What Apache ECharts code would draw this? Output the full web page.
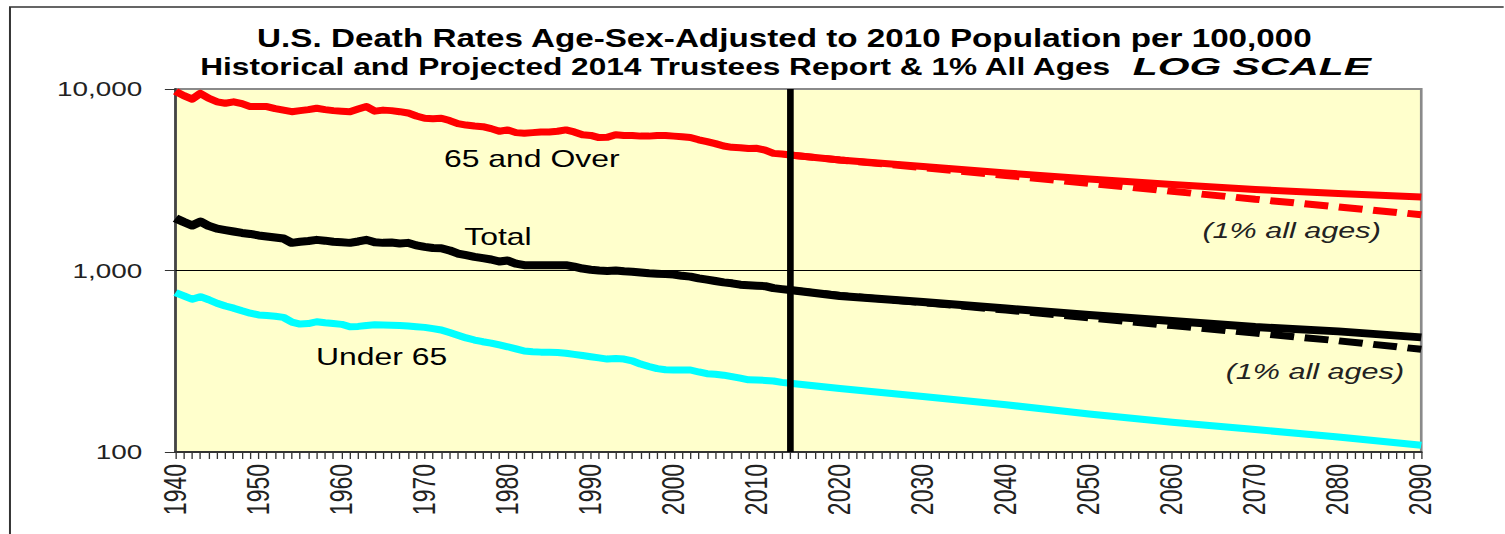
<!DOCTYPE html>
<html>
<head>
<meta charset="utf-8">
<script src="https://cdn.jsdelivr.net/npm/echarts@6/dist/echarts.min.js"></script>
<style>
  html, body { margin: 0; padding: 0; background: #ffffff; overflow: hidden; width: 1505px; height: 534px; }
  /* the chart is laid out on a narrower canvas and widened, giving the wide lettering */
  #chart { width: 1132px; height: 534px; transform: scaleX(1.32951); transform-origin: 0 0; overflow: hidden; }
</style>
</head>
<body>
<div id="chart"></div>
<script>
// ---- data: deaths per 100,000, age-sex-adjusted to the 2010 population ----
const histYears = [
  1940, 1941, 1942, 1943, 1944, 1945, 1946, 1947, 1948, 1949,
  1950, 1951, 1952, 1953, 1954, 1955, 1956, 1957, 1958, 1959,
  1960, 1961, 1962, 1963, 1964, 1965, 1966, 1967, 1968, 1969,
  1970, 1971, 1972, 1973, 1974, 1975, 1976, 1977, 1978, 1979,
  1980, 1981, 1982, 1983, 1984, 1985, 1986, 1987, 1988, 1989,
  1990, 1991, 1992, 1993, 1994, 1995, 1996, 1997, 1998, 1999,
  2000, 2001, 2002, 2003, 2004, 2005, 2006, 2007, 2008, 2009,
  2010, 2011, 2012, 2013, 2014
];
const hist65Over = [
  9700, 9200, 8800, 9450, 8900, 8500, 8350, 8500, 8300, 8000,
  8000, 8000, 7800, 7650, 7500, 7600, 7700, 7830, 7700, 7600,
  7550, 7500, 7750, 8000, 7550, 7650, 7600, 7500, 7380, 7100,
  6900, 6850, 6900, 6700, 6450, 6330, 6250, 6200, 6050, 5850,
  5950, 5750, 5700, 5750, 5800, 5800, 5850, 5950, 5800, 5600,
  5550, 5400, 5420, 5600, 5550, 5550, 5500, 5500, 5550, 5550,
  5500, 5450, 5400, 5250, 5130, 5000, 4850, 4770, 4750, 4700,
  4710, 4600, 4420, 4380, 4330
];
const histTotal = [
  1940, 1850, 1770, 1860, 1760, 1700, 1670, 1640, 1610, 1590,
  1560, 1540, 1520, 1500, 1420, 1440, 1455, 1475, 1460, 1440,
  1430, 1420, 1445, 1475, 1430, 1420, 1425, 1410, 1420, 1375,
  1350, 1330, 1325, 1290, 1240, 1215, 1190, 1170, 1150, 1120,
  1135, 1090, 1070, 1070, 1070, 1070, 1070, 1070, 1050, 1025,
  1010, 1000, 995, 1000, 990, 985, 975, 965, 960, 955,
  950, 935, 925, 905, 890, 875, 860, 850, 835, 830,
  825, 820, 800, 790, 781
];
const histUnder65 = [
  755, 725, 694, 717, 690, 660, 637, 620, 600, 582,
  569, 565, 560, 552, 520, 507, 510, 522, 515, 510,
  505, 490, 492, 498, 502, 501, 500, 498, 494, 490,
  486, 478, 470, 455, 440, 425, 414, 405, 398, 389,
  380, 370, 360, 357, 355, 354, 353, 350, 345, 340,
  335, 330, 325, 327, 325, 318, 305, 296, 288, 284,
  283, 283, 283, 276, 270, 268, 265, 260, 255, 250,
  249, 248, 246, 242, 239
];

// 2014 Trustees Report projections
const projYears     = [2014, 2020, 2030, 2040, 2050, 2060, 2070, 2080, 2090];
const proj65Over    = [4330, 4062, 3741, 3445, 3192, 2977, 2794, 2656, 2541];
const projTotal     = [781, 723, 671, 617, 569, 527, 488, 462, 428];
const projUnder65   = [239, 224, 202, 182, 162, 146, 133, 121, 109];
// alternative: 1% decline for all ages
const alt65Over     = [4330, 4065, 3690, 3340, 3020, 2730, 2470, 2240, 2030];
const altTotal      = [781, 728, 666, 605, 548, 497, 452, 410, 368];

const reportYear = 2014;
const xMin = 1940, xMax = 2090, xStep = 10;
const yTickValues = [100, 1000, 10000];
const yTickText   = ['100', '1,000', '10,000'];

const titleLine1 = 'U.S. Death Rates Age-Sex-Adjusted to 2010 Population per 100,000';
const titleLine2 = 'Historical and Projected 2014 Trustees Report & 1% All Ages';
const titleTag   = 'LOG SCALE';
const seriesNames = ['65 and Over', 'Total', 'Under 65'];
const altNote = '(1% all ages)';

// ---- helpers ----
const pairs = (xs, ys) => xs.map((x, i) => [x, ys[i]]);
const joined = (hx, hy, px, py) => pairs(hx, hy).concat(pairs(px.slice(1), py.slice(1)));
const yLabelOf = {};
yTickValues.forEach((v, i) => { yLabelOf[v] = yTickText[i]; });

const FONT = '"Liberation Sans", Arial, sans-serif';
const RED = '#ff0000', BLACK = '#000000', CYAN = '#00ffff';

const chart = echarts.init(document.getElementById('chart'), null, { renderer: 'svg' });

const solid = (name, data, color, width) => ({
  name, type: 'line', data, showSymbol: false, symbol: 'none', z: 3,
  lineStyle: { color, width, cap: 'butt', join: 'round' },
  emphasis: { disabled: true }, silent: true
});
const dashed = (name, data, color, width) => ({
  name, type: 'line', data, showSymbol: false, symbol: 'none', z: 2,
  lineStyle: { color, width, type: [18, 8], cap: 'butt' },
  emphasis: { disabled: true }, silent: true
});

chart.setOption({
  animation: false,
  backgroundColor: '#ffffff',
  grid: {
    left: 132, top: 89, width: 937, height: 363,
    show: true, backgroundColor: '#ffffcc', borderColor: '#8a8a8a', borderWidth: 2
  },
  xAxis: {
    type: 'value', min: xMin, max: xMax, interval: xStep,
    axisLine: { show: true, onZero: false, lineStyle: { color: '#333333', width: 2 } },
    axisTick: { show: true, length: 7, lineStyle: { color: '#333333', width: 1 } },
    minorTick: { show: true, splitNumber: 10, length: 7, lineStyle: { color: '#333333', width: 1 } },
    splitLine: { show: false },
    axisLabel: {
      rotate: 90, margin: 12, color: '#222222', fontSize: 23, fontFamily: FONT,
      formatter: v => String(v)
    }
  },
  yAxis: {
    type: 'log', logBase: 10, min: 100, max: 10000,
    axisLine: { show: true, lineStyle: { color: '#444444', width: 2 } },
    axisTick: { show: true, length: 8, lineStyle: { color: '#333333', width: 1 } },
    splitLine: { show: false },
    axisLabel: {
      margin: 25, color: '#222222', fontSize: 21, fontFamily: FONT,
      formatter: v => yLabelOf[Math.round(v)] || String(Math.round(v))
    }
  },
  series: [
    {
      type: 'line', data: [], z: 1, silent: true,
      markLine: {
        silent: true, symbol: ['none', 'none'], label: { show: false }, animation: false,
        lineStyle: { color: '#000000', width: 1, type: 'solid' },
        emphasis: { disabled: true },
        data: [{ yAxis: 1000 }]
      }
    },
    dashed(seriesNames[0] + ' ' + altNote, pairs(projYears, alt65Over), RED, 7),
    dashed(seriesNames[1] + ' ' + altNote, pairs(projYears, altTotal), BLACK, 7),
    solid(seriesNames[0], joined(histYears, hist65Over, projYears, proj65Over), RED, 7),
    solid(seriesNames[1], joined(histYears, histTotal, projYears, projTotal), BLACK, 8),
    solid(seriesNames[2], joined(histYears, histUnder65, projYears, projUnder65), CYAN, 7),
    {
      type: 'line', data: [], z: 5, silent: true,
      markLine: {
        silent: true, symbol: ['none', 'none'], label: { show: false }, animation: false,
        lineStyle: { color: '#000000', width: 5, type: 'solid' },
        emphasis: { disabled: true },
        data: [{ xAxis: reportYear }]
      }
    }
  ],
  graphic: [
    {
      // outer frame: left and top edges
      type: 'polyline', silent: true, z: 0,
      shape: { points: [[7.5, 540], [7.5, 7], [1131, 7]] },
      style: { fill: null, stroke: '#333333', lineWidth: 1.5 }
    },
    {
      type: 'text', silent: true, x: 590, y: 38,
      style: { text: titleLine1, font: 'bold 25px ' + FONT, fill: '#000', align: 'center', verticalAlign: 'middle' }
    },
    {
      type: 'text', silent: true, x: 835, y: 67,
      style: { text: titleLine2, font: 'bold 23.8px ' + FONT, fill: '#000', align: 'right', verticalAlign: 'middle' }
    },
    {
      type: 'text', silent: true, x: 852, y: 67, scaleX: 1.28,
      style: { text: titleTag, font: 'italic bold 24px ' + FONT, fill: '#000', align: 'left', verticalAlign: 'middle' }
    },
    {
      type: 'text', silent: true, x: 400, y: 158,
      style: { text: seriesNames[0], font: '24px ' + FONT, fill: '#000', align: 'center', verticalAlign: 'middle' }
    },
    {
      type: 'text', silent: true, x: 374.5, y: 236,
      style: { text: seriesNames[1], font: '24px ' + FONT, fill: '#000', align: 'center', verticalAlign: 'middle' }
    },
    {
      type: 'text', silent: true, x: 287, y: 356,
      style: { text: seriesNames[2], font: '24px ' + FONT, fill: '#000', align: 'center', verticalAlign: 'middle' }
    },
    {
      type: 'text', silent: true, x: 971.5, y: 230,
      style: { text: altNote, font: 'italic 23px ' + FONT, fill: '#222', align: 'center', verticalAlign: 'middle' }
    },
    {
      type: 'text', silent: true, x: 989, y: 371,
      style: { text: altNote, font: 'italic 23px ' + FONT, fill: '#222', align: 'center', verticalAlign: 'middle' }
    }
  ]
});
</script>
</body>
</html>
